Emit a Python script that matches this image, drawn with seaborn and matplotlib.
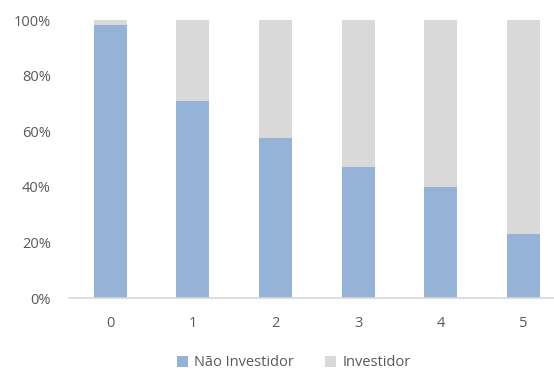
import matplotlib
matplotlib.use("Agg")
import matplotlib.pyplot as plt
from matplotlib.patches import Patch
from matplotlib.ticker import FuncFormatter
import seaborn as sns
import pandas as pd

categories = ["0", "1", "2", "3", "4", "5"]
nao_investidor = [98.1, 70.9, 57.6, 47.2, 40.0, 23.0]
investidor = [100 - v for v in nao_investidor]

blue = "#95B3D7"
gray = "#D9D9D9"
text_color = "#595959"

sns.set_theme(style="white")
plt.rcParams["font.family"] = ["Open Sans", "DejaVu Sans"]

df = pd.DataFrame({"cat": categories,
                   "nao": nao_investidor,
                   "total": [a + b for a, b in zip(nao_investidor, investidor)]})

fig = plt.figure(figsize=(5.54, 3.72), dpi=100)
ax = fig.add_axes([69 / 554, 1 - 298 / 372, (554 - 69) / 554, 278 / 372])

# full-height gray bars underneath, blue share drawn on top
sns.barplot(data=df, x="cat", y="total", color=gray, width=0.4, ax=ax,
            saturation=1, linewidth=0)
sns.barplot(data=df, x="cat", y="nao", color=blue, width=0.4, ax=ax,
            saturation=1, linewidth=0)

ax.set_ylim(0, 100)
ax.set_xlim(-0.5, -0.5 + 485 / 82.6)
ax.set_yticks([0, 20, 40, 60, 80, 100])
ax.yaxis.set_major_formatter(FuncFormatter(lambda v, p: f"{int(v)}%"))
ax.set_xlabel("")
ax.set_ylabel("")
for s in ["top", "right", "left"]:
    ax.spines[s].set_visible(False)
ax.spines["bottom"].set_color(gray)
ax.spines["bottom"].set_linewidth(1.2)
ax.tick_params(axis="both", length=0, labelsize=10.5, colors=text_color)
ax.tick_params(axis="x", pad=13)
ax.tick_params(axis="y", pad=13)

handles = [Patch(facecolor=blue, edgecolor="none", label="Não Investidor"),
           Patch(facecolor=gray, edgecolor="none", label="Investidor")]
leg = fig.legend(handles=handles, loc="center", bbox_to_anchor=(0.53, 1 - 363 / 372),
                 ncol=2, frameon=False, fontsize=10.5, handlelength=0.75,
                 handleheight=0.75, handletextpad=0.4, columnspacing=2.2)
for t in leg.get_texts():
    t.set_color(text_color)

fig.savefig("out.png", dpi=100)
